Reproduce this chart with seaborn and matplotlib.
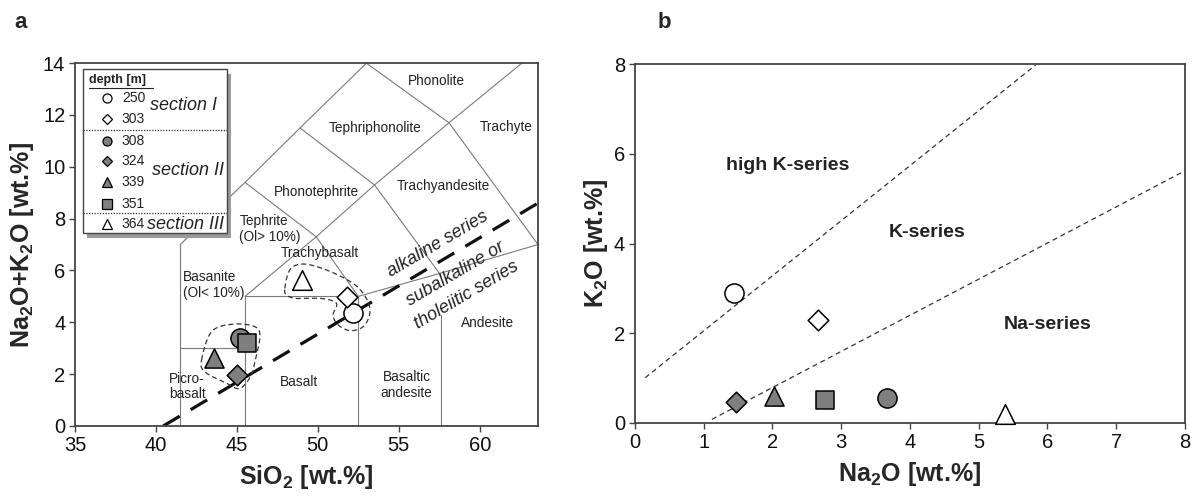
import numpy as np
import pandas as pd
import matplotlib
matplotlib.use("Agg")
import matplotlib.pyplot as plt
import seaborn as sns
from matplotlib.lines import Line2D
from matplotlib.patches import Rectangle

# ---------------- data ----------------
depth = [250, 303, 308, 324, 339, 351, 364]
section = ["I", "I", "II", "II", "II", "II", "III"]
sio2 = [52.2, 51.8, 45.2, 45.0, 43.6, 45.6, 49.0]
na2o_k2o = [4.35, 4.96, 3.38, 1.97, 2.62, 3.19, 5.63]
na2o = [1.44, 2.66, 3.66, 1.47, 2.03, 2.76, 5.38]
k2o = [2.90, 2.30, 0.55, 0.47, 0.59, 0.51, 0.20]

marker_of = {250: "o", 303: "D", 308: "o", 324: "D", 339: "^", 351: "s", 364: "^"}
fill_of = {250: "white", 303: "white", 308: "#7f7f7f", 324: "#7f7f7f",
           339: "#7f7f7f", 351: "#7f7f7f", 364: "white"}
size_of = {250: 190, 303: 110, 308: 190, 324: 110, 339: 190, 351: 150, 364: 200}

# TAS field boundaries (as drawn in the reference)
tas_lines = [
    [(41.5, 0), (41.5, 7)],
    [(41.5, 3), (45.5, 3)],
    [(45.5, 0), (45.5, 5)],
    [(45.5, 5), (52.5, 5)],
    [(52.5, 0), (52.5, 5)],
    [(57.6, 0), (57.6, 4.3)],
    [(41.5, 7), (45.5, 9.4), (48.9, 11.5), (53.0, 14)],
    [(45.5, 5), (49.9, 7.3), (52.5, 5)],
    [(45.5, 9.4), (49.9, 7.3)],
    [(49.9, 7.3), (53.5, 9.3), (58.1, 11.7), (62.6, 14)],
    [(48.9, 11.5), (53.5, 9.3), (57.5, 5.9)],
    [(53.0, 14), (58.1, 11.7), (63.6, 7)],
    [(52.5, 5), (57.6, 5.9), (63.6, 7)],
]
alk_line_x = [40.45, 63.6]
alk_line_y = [0.0, 8.6]

tas_labels = [
    ("Phonolite", 57.33, 13.32, "center"),
    ("Tephriphonolite", 53.52, 11.48, "center"),
    ("Trachyte", 61.65, 11.52, "center"),
    ("Phonotephrite", 49.92, 9.01, "center"),
    ("Trachyandesite", 57.73, 9.26, "center"),
    ("Tephrite\n(Ol> 10%)", 45.15, 7.6, "left"),
    ("Trachybasalt", 50.12, 6.66, "center"),
    ("Basanite\n(Ol< 10%)", 41.65, 5.44, "left"),
    ("Picro-\nbasalt", 40.8, 1.52, "left"),
    ("Basalt", 48.85, 1.71, "center"),
    ("Basaltic\nandesite", 55.47, 1.58, "center"),
    ("Andesite", 60.51, 3.96, "center"),
]

# dashed enclosures (outline vertices)
loop2_x = [42.82, 43.44, 44.77, 46.11, 46.42, 46.11, 45.9, 45.19, 44.36, 43.02]
loop2_y = [2.55, 3.64, 3.93, 3.83, 3.44, 2.48, 1.97, 1.45, 1.65, 2.09]
loop1_x = [47.96, 48.27, 49.09, 50.53, 52.18, 53.0, 53.21, 52.8, 51.98, 51.25,
           50.94, 51.15, 50.23, 48.69, 48.07]
loop1_y = [5.31, 6.02, 6.25, 6.02, 5.5, 4.92, 4.35, 3.83, 3.68, 3.9,
           4.28, 4.73, 4.92, 4.92, 5.05]

# K2O vs Na2O series boundaries
kline_x = [0.15, 5.83]
kline_y = [1.01, 7.98]
naline_x = [1.12, 8.0]
naline_y = [0.08, 5.62]

df = pd.DataFrame({"depth": depth, "section": section, "SiO2": sio2,
                   "NaK": na2o_k2o, "Na2O": na2o, "K2O": k2o})

# ---------------- style ----------------
sns.set_style("white")
plt.rcParams["font.family"] = ["Liberation Sans", "DejaVu Sans"]
plt.rcParams["mathtext.fontset"] = "custom"
plt.rcParams["mathtext.rm"] = "Liberation Sans"
plt.rcParams["mathtext.bf"] = "Liberation Sans:bold"
plt.rcParams["mathtext.it"] = "Liberation Sans:italic"

frame_col = "#444444"
line_col = "#7a7a7a"
txt_col = "#222222"


def closed_smooth(xs, ys, n=24):
    P = np.column_stack([xs, ys])
    N = len(P)
    out = []
    t = np.linspace(0, 1, n, endpoint=False)[:, None]
    for i in range(N):
        p0, p1, p2, p3 = P[i - 1], P[i], P[(i + 1) % N], P[(i + 2) % N]
        out.append(0.5 * ((2 * p1) + (-p0 + p2) * t
                          + (2 * p0 - 5 * p1 + 4 * p2 - p3) * t ** 2
                          + (-p0 + 3 * p1 - 3 * p2 + p3) * t ** 3))
    out.append(P[:1])
    out = np.vstack(out)
    return out[:, 0], out[:, 1]


def style_axes(ax):
    for sp in ax.spines.values():
        sp.set_color(frame_col)
        sp.set_linewidth(1.3)
    ax.tick_params(axis="both", which="both", direction="out", length=4,
                   width=1.0, color=frame_col, labelsize=14.5, pad=3,
                   bottom=True, left=True, labelcolor="#111111")


fig = plt.figure(figsize=(11.98, 4.97), dpi=100)
ax1 = fig.add_axes([0.0626, 0.1429, 0.3865, 0.730])
ax2 = fig.add_axes([0.530, 0.149, 0.459, 0.722])

# ---------------- panel a ----------------
for seg in tas_lines:
    xs, ys = zip(*seg)
    ax1.plot(xs, ys, color=line_col, lw=0.8, zorder=1)
ax1.plot(alk_line_x, alk_line_y, color="#111111", lw=2.3, dashes=(6, 4), zorder=2)

for lx, ly in [(loop1_x, loop1_y), (loop2_x, loop2_y)]:
    sx, sy = closed_smooth(lx, ly)
    ax1.plot(sx, sy, color="#333333", lw=0.9, dashes=(4, 2.5), zorder=2)

for txt, x, y, ha in tas_labels:
    ax1.text(x, y, txt, ha=ha, va="center", fontsize=9.8, color=txt_col,
             linespacing=1.15, zorder=3)

ax1.text(57.4, 7.0, "alkaline series", rotation=30.5, fontsize=13, style="italic",
         ha="center", va="center", color=txt_col, zorder=3)
ax1.text(58.5, 5.85, "subalkaline or", rotation=30.5, fontsize=13, style="italic",
         ha="center", va="center", color=txt_col, zorder=3)
ax1.text(59.2, 5.05, "tholeiitic series", rotation=30.5, fontsize=13, style="italic",
         ha="center", va="center", color=txt_col, zorder=3)

for d in depth:
    sub = df[df["depth"] == d]
    sns.scatterplot(data=sub, x="SiO2", y="NaK", ax=ax1, marker=marker_of[d],
                    s=size_of[d], color=fill_of[d], edgecolor="black",
                    linewidth=1.1, zorder=5, legend=False)

ax1.set_xlim(35, 63.6)
ax1.set_ylim(0, 14)
ax1.set_xticks(range(35, 61, 5))
ax1.set_yticks(range(0, 15, 2))
ax1.set_xlabel(r"SiO$_\mathbf{2}$ [wt.%]", fontsize=18, fontweight="bold", labelpad=6)
ax1.set_ylabel(r"Na$_\mathbf{2}$O+K$_\mathbf{2}$O [wt.%]", fontsize=18,
               fontweight="bold", labelpad=5)
style_axes(ax1)

# legend box (drawn in axes fraction)
T = ax1.transAxes
bx0, bx1, by0, by1 = 0.018, 0.3275, 0.531, 0.9826
ax1.add_patch(Rectangle((bx0 + 0.009, by0 - 0.012), bx1 - bx0, by1 - by0,
                        transform=T, facecolor="#9a9a9a", edgecolor="none",
                        zorder=9, clip_on=False))
ax1.add_patch(Rectangle((bx0, by0), bx1 - bx0, by1 - by0, transform=T,
                        facecolor="white", edgecolor="#444444", lw=1.0,
                        zorder=10, clip_on=False))
ax1.text(0.031, 0.953, "depth [m]", transform=T, fontsize=9, fontweight="bold",
         ha="left", va="center", zorder=11, color=txt_col)
ax1.plot([0.031, 0.168], [0.932, 0.932], transform=T, color=txt_col, lw=0.8,
         zorder=11)
row_y = [0.904, 0.845, 0.785, 0.730, 0.673, 0.613, 0.556]
for d, ry in zip(depth, row_y):
    ax1.add_line(Line2D([0.0685], [ry], transform=T, marker=marker_of[d],
                        markersize=6.5 if marker_of[d] != "D" else 5,
                        markerfacecolor=fill_of[d], markeredgecolor="black",
                        markeredgewidth=0.9, linestyle="none", zorder=11))
    ax1.text(0.101, ry, str(d), transform=T, fontsize=10, ha="left",
             va="center", zorder=11, color=txt_col)
for sy in [0.817, 0.586]:
    ax1.plot([bx0, bx1], [sy, sy], transform=T, color="#333333", lw=0.9,
             dashes=(1, 1.2), zorder=11)
ax1.text(0.234, 0.882, "section I", transform=T, fontsize=13, style="italic",
         ha="center", va="center", zorder=11, color=txt_col)
ax1.text(0.243, 0.705, "section II", transform=T, fontsize=13, style="italic",
         ha="center", va="center", zorder=11, color=txt_col)
ax1.text(0.238, 0.556, "section III", transform=T, fontsize=13, style="italic",
         ha="center", va="center", zorder=11, color=txt_col)

# ---------------- panel b ----------------
ax2.plot(kline_x, kline_y, color="#333333", lw=0.9, dashes=(4, 3), zorder=1)
ax2.plot(naline_x, naline_y, color="#333333", lw=0.9, dashes=(4, 3), zorder=1)
for d in depth:
    sub = df[df["depth"] == d]
    sns.scatterplot(data=sub, x="Na2O", y="K2O", ax=ax2, marker=marker_of[d],
                    s=size_of[d], color=fill_of[d], edgecolor="black",
                    linewidth=1.1, zorder=5, legend=False, clip_on=False)

ax2.text(2.22, 5.73, "high K-series", fontsize=14, fontweight="bold", ha="center",
         va="center", color=txt_col)
ax2.text(4.25, 4.24, "K-series", fontsize=14, fontweight="bold", ha="center",
         va="center", color=txt_col)
ax2.text(6.0, 2.2, "Na-series", fontsize=14, fontweight="bold", ha="center",
         va="center", color=txt_col)

ax2.set_xlim(0, 8)
ax2.set_ylim(0, 8)
ax2.set_xticks(range(0, 9))
ax2.set_yticks(range(0, 9, 2))
ax2.set_xlabel(r"Na$_\mathbf{2}$O [wt.%]", fontsize=18, fontweight="bold", labelpad=6)
ax2.set_ylabel(r"K$_\mathbf{2}$O [wt.%]", fontsize=18, fontweight="bold", labelpad=3)
style_axes(ax2)

fig.text(0.012, 0.955, "a", fontsize=16, fontweight="bold", ha="left", va="center")
fig.text(0.549, 0.955, "b", fontsize=16, fontweight="bold", ha="left", va="center")

fig.savefig("out.png", dpi=100, facecolor="white")
